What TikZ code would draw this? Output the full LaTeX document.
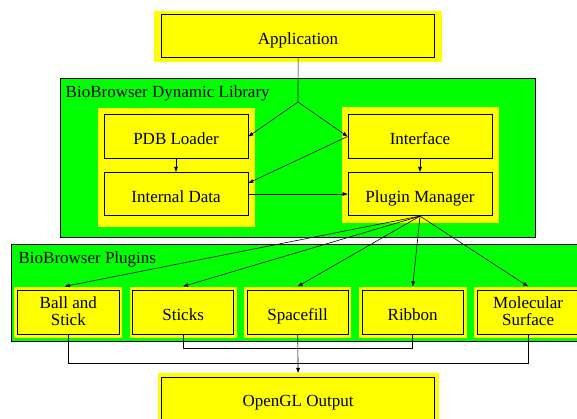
\documentclass[tikz,border=0pt]{standalone}
\usepackage{fontspec}
\setmainfont{Liberation Serif}
\usetikzlibrary{arrows.meta,calc}
\definecolor{clgreen}{HTML}{00FF00}
\definecolor{clyellow}{HTML}{FFFF00}
\begin{document}
\begin{tikzpicture}[x=1pt,y=-1pt,
  txt/.style={font=\fontsize{17}{17.4}\selectfont},
  cluster/.style={fill=clgreen,draw=black,line width=0.7pt},
  ypad/.style={fill=clyellow,draw=none},
  box/.style={txt,draw=black,fill=clyellow,line width=0.8pt,inner sep=0pt,
    align=center,minimum height=43.4pt,text height=16.5pt,text depth=0.5pt},
  twoline/.style={text height=26.9pt,text depth=0.5pt},
  lbl/.style={txt,anchor=base west,inner sep=0pt},
  edge/.style={draw=black,line width=0.6pt},
  arr/.style={edge,-{Triangle[length=5pt,width=3.6pt]}}]
\useasboundingbox (0,0) rectangle (577,418);
\clip (0,0) rectangle (577,418);

% application
\fill[ypad] (154,10.7) rectangle (441.6,61.7);
\node[box,minimum width=272.8pt] (app) at (298.1,36) {Application};

% dynamic library cluster
\draw[cluster] (60.7,78) rectangle (535,237);
\node[lbl] (liblbl) at (65.5,97) {BioBrowser Dynamic Library};
\fill[ypad] (97.5,108) rectangle (255,227);
\fill[ypad] (341.5,107) rectangle (498.6,223);
\node[box,minimum width=144pt] (pdb) at (176,136.5) {PDB Loader};
\node[box,minimum width=144pt] (idata) at (176,194) {Internal Data};
\node[box,minimum width=144pt] (iface) at (420,136.5) {Interface};
\node[box,minimum width=144pt] (pm) at (420,194) {Plugin Manager};

% plugins cluster
\draw[cluster] (11,244) rectangle (600,341);
\node[lbl] (pluglbl) at (18.4,263) {BioBrowser Plugins};
\foreach \l/\r in {14/122,129.5/236.6,244.3/351.4,359.2/466.6,474.3/581.6}
  \fill[ypad] (\l,287) rectangle (\r,338);
\node[box,twoline,minimum width=101.3pt] (ball) at (68.3,312.5) {Ball and\\Stick};
\node[box,minimum width=101.3pt] (sticks) at (183.1,312.5) {Sticks};
\node[box,minimum width=101.3pt] (space) at (297.7,312.5) {Spacefill};
\node[box,minimum width=101.3pt] (ribbon) at (412.7,312.5) {Ribbon};
\node[box,twoline,minimum width=101.3pt] (msurf) at (528.1,312.5) {Molecular\\Surface};

% output
\fill[ypad] (157.5,373.3) rectangle (438.6,425);
\node[box,minimum width=272.8pt,minimum height=42pt] (ogl) at (298.1,398.3) {OpenGL Output};

% connectors
\coordinate (split) at (298,102);
\draw[edge] (app.south) -- (split);
\draw[arr] (split) -- (pdb.east);
\draw[arr] (split) -- (iface.west);
\draw[arr] (pdb.south) -- (idata.north);
\draw[arr] (iface.south) -- (pm.north);
\draw[arr] (iface.west) -- ([yshift=11pt]idata.east);
\draw[arr] (idata.east) -- (pm.west);
\draw[arr] (pm.south) -- ([xshift=-3.5pt,yshift=4pt]ball.north);
\foreach \p in {sticks,space,ribbon,msurf}
  \draw[arr] (pm.south) -- ([yshift=4pt]\p.north);
\draw[edge] (ball.south) -- ++(0,29) -| (msurf.south);
\draw[edge] (sticks.south) -- ++(0,14) -| (ribbon.south);
\draw[arr] (space.south) -- ([yshift=4pt]ogl.north);
\end{tikzpicture}
\end{document}
